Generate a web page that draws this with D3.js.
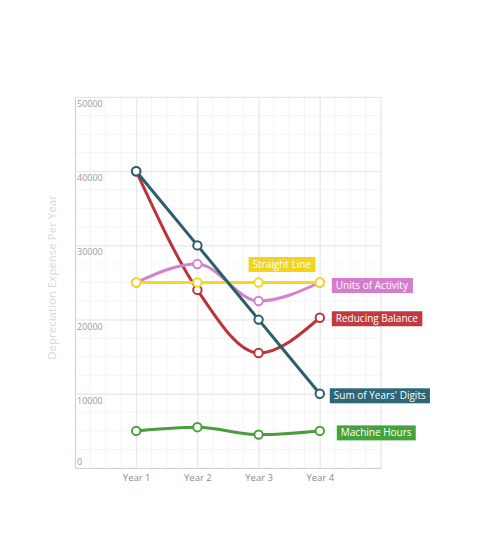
<!DOCTYPE html>
<html>
<head>
<meta charset="utf-8">
<script src="https://cdn.jsdelivr.net/npm/d3@7"></script>
<style>
  body { margin: 0; background: #fff; }
  svg { display: block; }
  text { font-family: "Liberation Sans Narrow", "Open Sans", "Noto Sans", sans-serif; }
</style>
</head>
<body>
<div id="chart"></div>
<script>
// data
var years = ["Year 1", "Year 2", "Year 3", "Year 4"];
var yTicks = [0, 10000, 20000, 30000, 40000, 50000];
var straightLine = [25000, 25000, 25000, 25000];
var unitsOfActivity = [25000, 27500, 22500, 25000];
var reducingBalance = [40000, 24000, 15500, 20250];
var machineHours = [5000, 5500, 4500, 5000];
var sumOfYears = [40000, 30000, 20000, 10000];
var seriesNames = ["Reducing Balance", "Units of Activity", "Straight Line", "Machine Hours", "Sum of Years' Digits"];

// styles (kept apart from the values)
var colors = {
  "Reducing Balance": "#c23a40",
  "Units of Activity": "#d57ccd",
  "Straight Line": "#f2d41c",
  "Machine Hours": "#44a33a",
  "Sum of Years' Digits": "#2c6677"
};
var lineColors = {
  "Reducing Balance": "#b9343b",
  "Units of Activity": "#d382cc",
  "Straight Line": "#f4d924",
  "Machine Hours": "#4a9c3e",
  "Sum of Years' Digits": "#2b5f6c"
};
// label: which point it hangs on and how far off it sits
var labelPos = {
  "Reducing Balance": { i: 3, dx: 12, dy: 1 },
  "Units of Activity": { i: 3, dx: 12, dy: 3 },
  "Straight Line": { i: 2, dx: -10, dy: -18 },
  "Machine Hours": { i: 3, dx: 17, dy: 2 },
  "Sum of Years' Digits": { i: 3, dx: 10, dy: 2 }
};

var values = {
  "Reducing Balance": reducingBalance,
  "Units of Activity": unitsOfActivity,
  "Straight Line": straightLine,
  "Machine Hours": machineHours,
  "Sum of Years' Digits": sumOfYears
};

var W = 494, H = 543;
var mLeft = 75, mRight = 381, mTop = 97, mBottom = 468;

var svg = d3.select("#chart").append("svg").attr("width", W).attr("height", H);

var x = d3.scalePoint().domain(years).range([mLeft, mRight]).padding(1);
var y = d3.scaleLinear().domain([0, 50000]).range([mBottom, mTop]);

// faint minor grid
var minor = d3.range(0, 50001, 2500);
svg.append("g").selectAll("line").data(minor).enter().append("line")
  .attr("x1", mLeft).attr("x2", mRight)
  .attr("y1", function (d) { return y(d); }).attr("y2", function (d) { return y(d); })
  .attr("stroke", "#f4f4f4");
var step = x.step();
var minorX = d3.range(0, 21).map(function (k) { return mLeft + k * step / 4; }).filter(function (v) { return v <= mRight + 0.5; });
svg.append("g").selectAll("line").data(minorX).enter().append("line")
  .attr("x1", function (d) { return d; }).attr("x2", function (d) { return d; })
  .attr("y1", mTop).attr("y2", mBottom)
  .attr("stroke", "#f4f4f4");

// major grid
svg.append("g")
  .attr("transform", "translate(" + mLeft + ",0)")
  .call(d3.axisLeft(y).tickValues(yTicks).tickSize(-(mRight - mLeft)).tickFormat(""))
  .call(function (g) {
    g.select(".domain").attr("stroke", "#cfcfcf");
    g.selectAll(".tick line").attr("stroke", "#e6e6e6");
  });
svg.append("g")
  .attr("transform", "translate(0," + mBottom + ")")
  .call(d3.axisBottom(x).tickSize(-(mBottom - mTop)).tickSizeOuter(0).tickPadding(6))
  .call(function (g) {
    g.select(".domain").attr("stroke", "#cfcfcf");
    g.selectAll(".tick line").attr("stroke", "#e6e6e6");
    g.selectAll(".tick text").attr("fill", "#8a8a8a").attr("font-size", 9.5);
  });
svg.append("line").attr("x1", mRight).attr("x2", mRight).attr("y1", mTop).attr("y2", mBottom).attr("stroke", "#e6e6e6");

// y tick labels sit inside the plot, under each gridline
svg.append("g").selectAll("text").data(yTicks).enter().append("text")
  .attr("x", mLeft + 2)
  .attr("y", function (d) { return d === 0 ? y(d) - 3 : y(d) + 10; })
  .attr("fill", "#9a9a9a").attr("font-size", 9)
  .text(function (d) { return d; });

// y title
svg.append("text")
  .attr("transform", "translate(56," + ((mTop + mBottom) / 2 - 5) + ") rotate(-90)")
  .attr("text-anchor", "middle")
  .attr("fill", "#d8d8d8").attr("font-size", 11.5)
  .text("Depreciation Expense Per Year");

var line = d3.line()
  .x(function (d, i) { return x(years[i]); })
  .y(function (d) { return y(d); })
  .curve(d3.curveMonotoneX);

seriesNames.forEach(function (name) {
  var g = svg.append("g");
  g.append("path").datum(values[name])
    .attr("d", line).attr("fill", "none")
    .attr("stroke", lineColors[name]).attr("stroke-width", 3);
  g.selectAll("circle").data(values[name]).enter().append("circle")
    .attr("cx", function (d, i) { return x(years[i]); })
    .attr("cy", function (d) { return y(d); })
    .attr("r", 4.2)
    .attr("fill", "#fff")
    .attr("stroke", lineColors[name]).attr("stroke-width", 2);
});

// series labels
seriesNames.forEach(function (name) {
  var p = labelPos[name];
  var px = x(years[p.i]) + p.dx, py = y(values[name][p.i]) + p.dy;
  var g = svg.append("g");
  var t = g.append("text")
    .attr("x", px + 4).attr("y", py + 3.5)
    .attr("fill", "#fff").attr("font-size", 10)
    .text(name);
  var bb = t.node().getBBox();
  g.insert("rect", "text")
    .attr("x", bb.x - 4).attr("y", py - 7.5)
    .attr("width", bb.width + 8).attr("height", 15)
    .attr("fill", colors[name]);
});
</script>
</body>
</html>
